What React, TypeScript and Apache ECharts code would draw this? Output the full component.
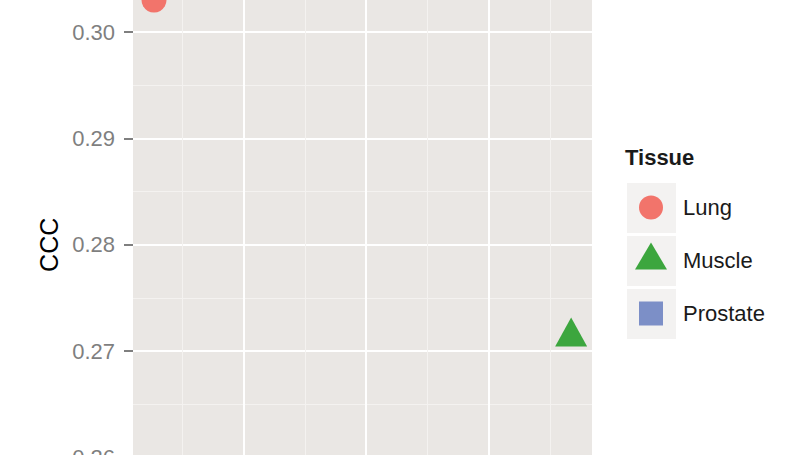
import { useEffect, useRef } from 'react';
import * as echarts from 'echarts';

// Tissue groups shown in the legend
const TISSUES = ['Lung', 'Muscle', 'Prostate'];
const TISSUE_COLOR = ['#F2746B', '#3CA63E', '#7C8FC7'];

// [x, CCC] points (x axis is cropped away)
const lungPoints = [[0.271, 0.303]];
const musclePoints = [[3.67, 0.2718]];
const prostatePoints: number[][] = [];

// vertical grid lines on the x scale
const xMajor = [1, 2, 3];
const xMinor = [0.5, 1.5, 2.5, 3.5];

const FONT = '"Liberation Sans", Arial, Helvetica, sans-serif';

// legend icons drawn in a 45x36 box so that label and key spacing match ggplot
const ICON_CIRCLE = 'path://M0,0M45,36M30,18A12,12,0,1,1,6,18A12,12,0,1,1,30,18Z';
const ICON_TRIANGLE = 'path://M0,0M45,36M18,0L34,27L2,27Z';
const ICON_SQUARE = 'path://M0,0M45,36M6,6L30,6L30,30L6,30Z';

export default function App() {
  const ref = useRef<HTMLDivElement>(null);

  useEffect(() => {
    document.body.style.margin = '0';
    if (!ref.current) return;
    const chart = echarts.init(ref.current, null, { renderer: 'svg' });

    const gridLine = (v: number, major: boolean) => ({
      xAxis: v,
      lineStyle: { color: major ? '#FFFFFF' : '#F4F2F0', width: major ? 2 : 1, type: 'solid' },
    });

    chart.setOption({
      animation: false,
      backgroundColor: '#FFFFFF',
      textStyle: { fontFamily: FONT },
      title: {
        text: 'Tissue',
        left: 625,
        top: 146,
        padding: 0,
        textStyle: { fontSize: 22, fontWeight: 'bold', color: '#1A1A1A', fontFamily: FONT },
      },
      // the panel runs past the top and bottom of the picture, as in the cropped original
      grid: {
        left: 133,
        right: 216,
        top: -74.4,
        bottom: -109,
        containLabel: false,
        outerBoundsMode: 'none',
        show: true,
        backgroundColor: '#EAE7E4',
        borderWidth: 0,
      },
      legend: {
        data: [
          { name: TISSUES[0], icon: ICON_CIRCLE },
          { name: TISSUES[1], icon: ICON_TRIANGLE },
          { name: TISSUES[2], icon: ICON_SQUARE },
        ],
        orient: 'vertical',
        left: 633,
        top: 189.5,
        padding: 0,
        itemWidth: 45,
        itemHeight: 36,
        itemGap: 17,
        selectedMode: false,
        textStyle: { fontSize: 22, color: '#1A1A1A', fontFamily: FONT },
      },
      graphic: [0, 1, 2].map((i) => ({
        type: 'rect',
        z: -1,
        silent: true,
        shape: { x: 627, y: 183 + i * 53, width: 49, height: 50 },
        style: { fill: '#F3F2F1' },
      })),
      xAxis: {
        type: 'value',
        min: 0.1,
        max: 3.84,
        axisLine: { show: false },
        axisTick: { show: false },
        axisLabel: { show: false },
        splitLine: { show: false },
      },
      yAxis: {
        type: 'value',
        min: 0.25,
        max: 0.31,
        interval: 0.01,
        name: 'CCC',
        nameLocation: 'middle',
        nameRotate: 90,
        nameGap: 65,
        nameTextStyle: { fontSize: 25, color: '#000000', fontFamily: FONT },
        axisLine: { show: false },
        axisTick: { show: true, length: 9, lineStyle: { color: '#7F7F7F', width: 2 } },
        axisLabel: {
          margin: 18,
          fontSize: 22,
          color: '#7F7F7F',
          fontFamily: FONT,
          showMinLabel: false,
          showMaxLabel: false,
          formatter: (v: number) => v.toFixed(2),
        },
        splitLine: { show: true, lineStyle: { color: '#FFFFFF', width: 2 } },
        minorTick: { show: false, splitNumber: 2 },
        minorSplitLine: { show: true, lineStyle: { color: '#F4F2F0', width: 1 } },
      },
      series: [
        {
          type: 'scatter',
          silent: true,
          data: [],
          z: 1,
          markLine: {
            silent: true,
            symbol: ['none', 'none'],
            label: { show: false },
            data: [...xMinor.map((v) => gridLine(v, false)), ...xMajor.map((v) => gridLine(v, true))],
          },
        },
        {
          name: TISSUES[0],
          type: 'scatter',
          symbol: 'circle',
          symbolSize: 25,
          itemStyle: { color: TISSUE_COLOR[0], opacity: 1 },
          data: lungPoints,
          z: 3,
        },
        {
          name: TISSUES[1],
          type: 'scatter',
          symbol: 'triangle',
          symbolSize: [32, 29],
          itemStyle: { color: TISSUE_COLOR[1], opacity: 1 },
          data: musclePoints,
          z: 3,
        },
        {
          name: TISSUES[2],
          type: 'scatter',
          symbol: 'rect',
          symbolSize: 24,
          itemStyle: { color: TISSUE_COLOR[2], opacity: 1 },
          data: prostatePoints,
          z: 3,
        },
      ],
    });

    return () => chart.dispose();
  }, []);

  return <div ref={ref} style={{ width: 808, height: 455 }} />;
}
